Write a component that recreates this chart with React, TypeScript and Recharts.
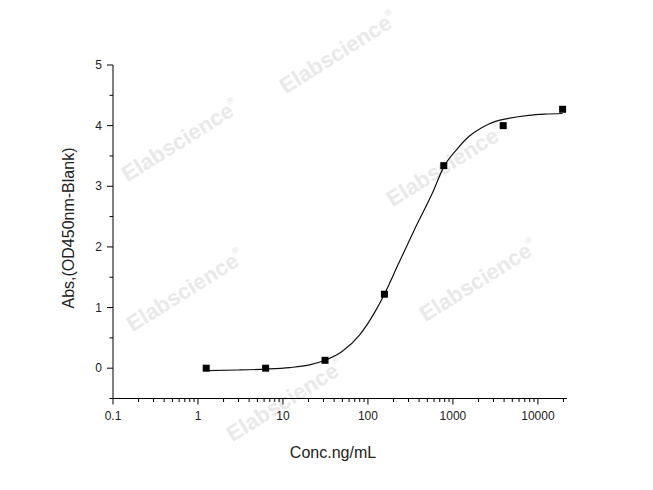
import React from 'react';
import { ComposedChart, Line, Scatter, XAxis, YAxis } from 'recharts';

// measured standards (five-fold dilution series)
const standardConc = [1.25, 6.25, 31.25, 156.25, 781.25, 3906.25, 19531.25];
const standardAbs = [0, 0, 0.13, 1.22, 3.34, 4.0, 4.27];

// fitted curve
const fitConc = [1.25, 3, 6.25, 12, 20, 31.25, 50, 80, 120, 156.25, 230, 360, 570, 781.25, 1100, 1540, 2200, 3170, 4500, 7800, 12000, 19531.25];
const fitAbs = [-0.04, -0.03, -0.015, 0.01, 0.05, 0.13, 0.28, 0.55, 0.92, 1.22, 1.73, 2.31, 2.88, 3.32, 3.6, 3.82, 3.97, 4.07, 4.12, 4.17, 4.19, 4.2];

const xMajorTicks = [0.1, 1, 10, 100, 1000, 10000];
const xTickLabels = ['0.1', '1', '10', '100', '1000', '10000'];
const yTicks = [-0.5, 0, 0.5, 1, 1.5, 2, 2.5, 3, 3.5, 4, 4.5, 5];
const yTickLabels = ['', '0', '', '1', '', '2', '', '3', '', '4', '', '5'];

const xTitle = 'Conc.ng/mL';
const yTitle = 'Abs,(OD450nm-Blank)';
const watermark = 'Elabscience';

// minor log ticks 2..9 in each decade, plus 20000 at the end
const xMinorTicks: number[] = [];
xMajorTicks.forEach((d) => {
  for (let m = 2; m <= 9; m++) {
    const v = +(d * m).toPrecision(3);
    if (v <= 20000) xMinorTicks.push(v);
  }
});
const xTicks = [...xMajorTicks, ...xMinorTicks].sort((a, b) => a - b);

const pointData = standardConc.map((c, i) => ({ conc: c, abs: standardAbs[i] }));
const fitData = fitConc.map((c, i) => ({ conc: c, abs: fitAbs[i] }));

const FONT = '"Liberation Sans", Arial, sans-serif';

const XTick = (props: any) => {
  const { x, y, payload } = props;
  const idx = xMajorTicks.indexOf(payload.value);
  const major = idx >= 0;
  return (
    <g>
      <line x1={x} x2={x} y1={y} y2={y + (major ? 6 : 3.5)} stroke="#000" strokeWidth={1} />
      {major && (
        <text x={x} y={y + 21} textAnchor="middle" fontSize={12} fill="#222" fontFamily={FONT}>
          {xTickLabels[idx]}
        </text>
      )}
    </g>
  );
};

const YTick = (props: any) => {
  const { x, y, payload } = props;
  const idx = yTicks.indexOf(payload.value);
  const label = yTickLabels[idx];
  const major = label !== '';
  return (
    <g>
      <line x1={x} x2={x - (major ? 6 : 3.5)} y1={y} y2={y} stroke="#000" strokeWidth={1} />
      {major && (
        <text x={x - 11} y={y + 4} textAnchor="end" fontSize={12} fill="#222" fontFamily={FONT}>
          {label}
        </text>
      )}
    </g>
  );
};

const Square = (props: any) => {
  const { cx, cy } = props;
  return <rect x={cx - 3.5} y={cy - 3.5} width={7} height={7} fill="#000" />;
};

// watermark anchor spots (centre of each stamp)
const stampSpots = [
  [338, 52],
  [180, 140],
  [445, 165],
  [185, 290],
  [478, 280],
  [285, 400],
];

export default function App() {
  return (
    <div style={{ position: 'absolute', left: 0, top: 0, width: 653, height: 490, background: '#fff', fontFamily: FONT }}>
      <svg width={653} height={490} style={{ position: 'absolute', left: 0, top: 0 }}>
        {stampSpots.map(([cx, cy], i) => (
          <g key={i} transform={`translate(${cx},${cy}) rotate(-32)`}>
            <text x={0} y={8} textAnchor="middle" fontSize={22} fontWeight="bold" fill="#e9e9e9" fontFamily={FONT}>
              {watermark}
              <tspan fontSize={9} dy={-12}>®</tspan>
            </text>
          </g>
        ))}
        <text x={333} y={458} textAnchor="middle" fontSize={16} fill="#222" fontFamily={FONT}>
          {xTitle}
        </text>
        <text
          x={0}
          y={0}
          transform="translate(74,228) rotate(-90)"
          textAnchor="middle"
          fontSize={16}
          fill="#222"
          fontFamily={FONT}
        >
          {yTitle}
        </text>
      </svg>
      <div style={{ position: 'absolute', left: 0, top: 0 }}>
        <ComposedChart width={653} height={490} margin={{ top: 65, right: 86, bottom: 51.5, left: 73 }}>
          <XAxis
            dataKey="conc"
            type="number"
            scale="log"
            domain={[0.1, 22000]}
            allowDataOverflow
            ticks={xTicks}
            interval={0}
            tickSize={0}
            tickMargin={0}
            tick={<XTick />}
            height={40}
            stroke="#000"
          />
          <YAxis
            type="number"
            domain={[-0.5, 5]}
            allowDataOverflow
            ticks={yTicks}
            interval={0}
            tickSize={0}
            tickMargin={0}
            tick={<YTick />}
            width={40}
            stroke="#000"
          />
          <Line
            data={fitData}
            dataKey="abs"
            type="monotone"
            stroke="#111"
            strokeWidth={1.2}
            dot={false}
            activeDot={false}
            isAnimationActive={false}
          />
          <Scatter data={pointData} dataKey="abs" shape={<Square />} isAnimationActive={false} />
        </ComposedChart>
      </div>
    </div>
  );
}
